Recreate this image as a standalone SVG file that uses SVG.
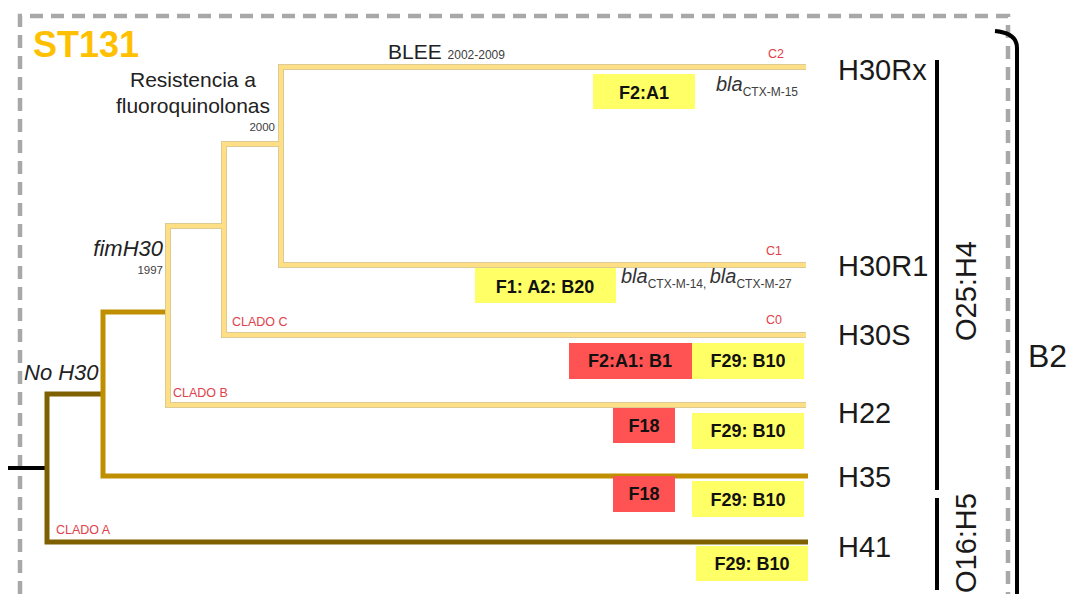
<svg xmlns="http://www.w3.org/2000/svg" width="1073" height="594" viewBox="0 0 1073 594">
<style>
text{font-family:"Liberation Sans",Arial,sans-serif;}
.lbl{font-size:29px;fill:#1a1a1a;}
.sm{font-size:11.5px;fill:#404040;}
.red{font-size:12.5px;fill:#e0404a;}
.box{font-size:18px;font-weight:bold;fill:#111;text-anchor:middle;}
.it{font-style:italic;fill:#222;}
.yb{fill:#FFFF66;}
.rb{fill:#FF5252;}
.lyo{fill:none;stroke:#DCCB92;stroke-width:6;stroke-linejoin:miter;}
.lyi{fill:none;stroke:#FFDF85;stroke-width:4;stroke-linejoin:miter;}
.gold{fill:none;stroke:#BF8F00;stroke-width:5;}
.dark{fill:none;stroke:#7F6000;stroke-width:5;}
.blk{fill:none;stroke:#000;stroke-width:4;}
</style>
<rect width="1073" height="594" fill="#fff"/>
<!-- dashed frame -->
<path d="M20,594 L20,16 L1008,16 L1008,594" fill="none" stroke="#A8A8A8" stroke-width="4.5" stroke-dasharray="13 8"/>
<!-- brackets -->
<g id="bracket-B2">
<path class="blk" d="M995,31 Q1017,33 1017,48 L1017,594"/>
<text x="1028" y="367" style="font-size:32px;fill:#1a1a1a">B2</text>
</g>
<g id="bracket-O25H4">
<line class="blk" x1="937" y1="60" x2="937" y2="490"/>
<text class="lbl" transform="translate(976,291) rotate(-90)" text-anchor="middle">O25:H4</text>
</g>
<g id="bracket-O16H5">
<line class="blk" x1="937" y1="498" x2="937" y2="590"/>
<text class="lbl" transform="translate(976,593) rotate(-90)">O16:H5</text>
</g>
<!-- tree connectors -->
<g id="connectors">
<line class="blk" x1="8" y1="468" x2="47" y2="468"/>
<path class="dark" d="M808,542 L47,542 L47,394 L103,394"/>
<path class="gold" d="M808,476 L103,476 L103,312 L168,312"/>
<path class="lyo" d="M806,405 L168,405 L168,226 L224,226"/>
<path class="lyo" d="M806,335 L224,335 L224,144 L281,144"/>
<path class="lyo" d="M806,67 L281,67 L281,265 L806,265"/>
<path class="lyi" d="M806,405 L168,405 L168,226 L224,226"/>
<path class="lyi" d="M806,335 L224,335 L224,144 L281,144"/>
<path class="lyi" d="M806,67 L281,67 L281,265 L806,265"/>
</g>
<g id="title"><text x="33" y="57" style="font-size:36px;font-weight:bold;fill:#FFC000">ST131</text></g>
<g id="event-fq">
<text x="193" y="87" text-anchor="middle" style="font-size:21px;fill:#222">Resistencia a</text>
<text x="193" y="113" text-anchor="middle" style="font-size:21px;fill:#222">fluoroquinolonas</text>
<text class="sm" x="275" y="131" text-anchor="end">2000</text>
</g>
<g id="event-blee">
<text x="388" y="59" style="font-size:21px;fill:#222">BLEE <tspan style="font-size:12px;fill:#404040">2002-2009</tspan></text>
</g>
<g id="event-fimH30">
<text class="it" x="163" y="256" text-anchor="end" style="font-size:22px">fimH30</text>
<text class="sm" x="163" y="274" text-anchor="end">1997</text>
</g>
<g id="event-noH30"><text class="it" x="24" y="380" style="font-size:22px">No H30</text></g>
<g id="clade-labels">
<text class="red" x="768" y="58">C2</text>
<text class="red" x="766" y="255">C1</text>
<text class="red" x="766" y="324">C0</text>
<text class="red" x="232" y="326">CLADO C</text>
<text class="red" x="173" y="397">CLADO B</text>
<text class="red" x="56" y="534">CLADO A</text>
</g>
<g id="H30Rx">
<text class="lbl" x="838" y="80">H30Rx</text>
<rect class="yb" x="593" y="74" width="102" height="35"/>
<text class="box" x="644" y="99">F2:A1</text>
<text class="it" x="716" y="91" style="font-size:20px;fill:#333">bla<tspan font-style="normal" dy="5" style="font-size:12px;fill:#404040">CTX-M-15</tspan></text>
</g>
<g id="H30R1">
<text class="lbl" x="838" y="276">H30R1</text>
<rect class="yb" x="475" y="268" width="141" height="35"/>
<text class="box" x="545" y="293">F1: A2: B20</text>
<text class="it" x="621" y="283" style="font-size:20px;fill:#333">bla<tspan font-style="normal" dy="5" style="font-size:12px;fill:#404040">CTX-M-14, </tspan><tspan dy="-5">bla</tspan><tspan font-style="normal" dy="5" style="font-size:12px;fill:#404040">CTX-M-27</tspan></text>
</g>
<g id="H30S">
<text class="lbl" x="838" y="345">H30S</text>
<rect class="rb" x="569" y="343" width="123" height="36"/>
<text class="box" x="630" y="367">F2:A1: B1</text>
<rect class="yb" x="692" y="343" width="112" height="36"/>
<text class="box" x="748" y="367">F29: B10</text>
</g>
<g id="H22">
<text class="lbl" x="838" y="423">H22</text>
<rect class="rb" x="613" y="408" width="62" height="35"/>
<text class="box" x="644" y="432">F18</text>
<rect class="yb" x="692" y="413" width="112" height="36"/>
<text class="box" x="748" y="437">F29: B10</text>
</g>
<g id="H35">
<text class="lbl" x="838" y="487">H35</text>
<rect class="rb" x="613" y="476" width="62" height="36"/>
<text class="box" x="644" y="500">F18</text>
<rect class="yb" x="692" y="481" width="112" height="36"/>
<text class="box" x="748" y="506">F29: B10</text>
</g>
<g id="H41">
<text class="lbl" x="838" y="557">H41</text>
<rect class="yb" x="696" y="546" width="112" height="35"/>
<text class="box" x="752" y="570">F29: B10</text>
</g>
</svg>
